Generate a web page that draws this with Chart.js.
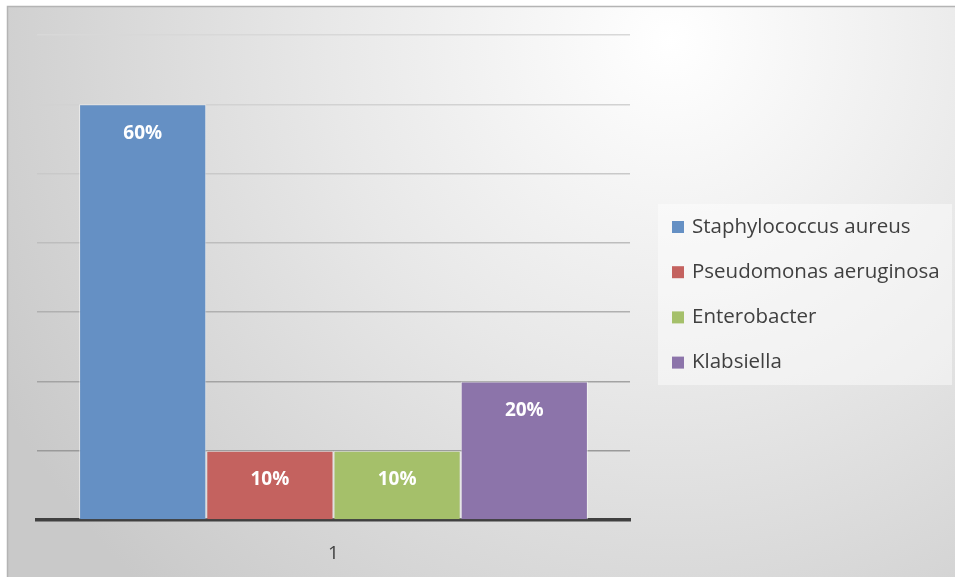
<!DOCTYPE html>
<html>
<head>
<meta charset="utf-8">
<script src="https://cdn.jsdelivr.net/npm/chart.js@4/dist/chart.umd.min.js"></script>
<style>
  html, body { margin: 0; padding: 0; background: #ffffff; }
  #wrap { width: 955px; height: 577px; }
</style>
</head>
<body>
<div id="wrap"><canvas id="c" width="955" height="577"></canvas></div>
<script>
// Bacterial isolates, share of total (%)
const categories = ['1'];
const seriesNames = ['Staphylococcus aureus', 'Pseudomonas aeruginosa', 'Enterobacter', 'Klabsiella'];
const seriesValues = [[60], [10], [10], [20]];
const seriesColors = ['#6590c4', '#c4625f', '#a5c06a', '#8c74aa'];
const yTicks = [0, 10, 20, 30, 40, 50, 60, 70];

const FONT = '"Open Sans", Lato, sans-serif';

// Gridline tint gets a little darker towards the base
const gridTint = {10: '#9a9a9a', 20: '#a3a3a3', 30: '#b0b0b0', 40: '#bdbdbd', 50: '#c9c9c9', 60: '#d2d2d2', 70: '#d8d8d8'};

const backdrop = {
  id: 'backdrop',
  beforeDraw(chart) {
    const ctx = chart.ctx;
    const W = chart.width, H = chart.height;
    ctx.save();
    ctx.fillStyle = '#ffffff';
    ctx.fillRect(0, 0, W, H);
    const g = ctx.createRadialGradient(670, 40, 0, 670, 40, 760);
    g.addColorStop(0, '#ffffff');
    g.addColorStop(0.45, '#e8e8e8');
    g.addColorStop(1, '#c9c9c9');
    ctx.fillStyle = g;
    ctx.fillRect(7, 6, W - 7, H - 6);
    ctx.strokeStyle = '#b4b4b4';
    ctx.lineWidth = 1.5;
    ctx.beginPath();
    ctx.moveTo(7.5, H);
    ctx.lineTo(7.5, 6.5);
    ctx.lineTo(W, 6.5);
    ctx.stroke();
    ctx.restore();
  }
};

const valueLabels = {
  id: 'valueLabels',
  afterDatasetsDraw(chart) {
    const ctx = chart.ctx;
    ctx.save();
    ctx.fillStyle = '#ffffff';
    ctx.font = 'bold 19px ' + FONT;
    ctx.textAlign = 'center';
    ctx.textBaseline = 'middle';
    chart.data.datasets.forEach((ds, i) => {
      chart.getDatasetMeta(i).data.forEach((bar, j) => {
        ctx.fillText(ds.data[j] + '%', bar.x, bar.y + 29);
      });
    });
    ctx.restore();
  }
};

const sideLegend = {
  id: 'sideLegend',
  afterDraw(chart) {
    const ctx = chart.ctx;
    ctx.save();
    ctx.fillStyle = 'rgba(255,255,255,0.45)';
    ctx.fillRect(658, 204, 294, 181);
    ctx.font = '20.5px ' + FONT;
    ctx.textAlign = 'left';
    ctx.textBaseline = 'middle';
    chart.data.datasets.forEach((ds, i) => {
      const y = 227 + i * 45.2;
      ctx.fillStyle = ds.backgroundColor;
      ctx.fillRect(672, y - 6, 12, 12);
      ctx.fillStyle = '#404040';
      ctx.fillText(ds.label, 692, y);
    });
    ctx.restore();
  }
};

new Chart(document.getElementById('c'), {
  type: 'bar',
  data: {
    labels: categories,
    datasets: seriesNames.map((name, i) => ({
      label: name,
      data: seriesValues[i],
      backgroundColor: seriesColors[i],
      borderColor: 'rgba(255,255,255,0.55)',
      borderWidth: 1,
      categoryPercentage: 0.858,
      barPercentage: 1
    }))
  },
  options: {
    responsive: false,
    animation: false,
    layout: { padding: { left: 37, top: 35, right: 325, bottom: 0 } },
    plugins: { legend: { display: false }, tooltip: { enabled: false } },
    scales: {
      x: {
        z: 1,
        grid: { display: false },
        border: { display: true, color: '#404040', width: 3.5 },
        ticks: { color: '#404040', font: { family: FONT, size: 19 }, padding: 14 },
        afterFit(s) { s.height = 57; }
      },
      y: {
        min: yTicks[0],
        max: yTicks[yTicks.length - 1],
        afterBuildTicks(s) { s.ticks = yTicks.map(v => ({ value: v })); },
        ticks: { display: false },
        border: { display: false },
        grid: {
          drawTicks: false,
          lineWidth: 1.5,
          color: c => (c.tick && gridTint[c.tick.value]) || 'rgba(0,0,0,0)'
        },
        afterFit(s) { s.width = 0; }
      }
    }
  },
  plugins: [backdrop, valueLabels, sideLegend]
});
</script>
</body>
</html>
